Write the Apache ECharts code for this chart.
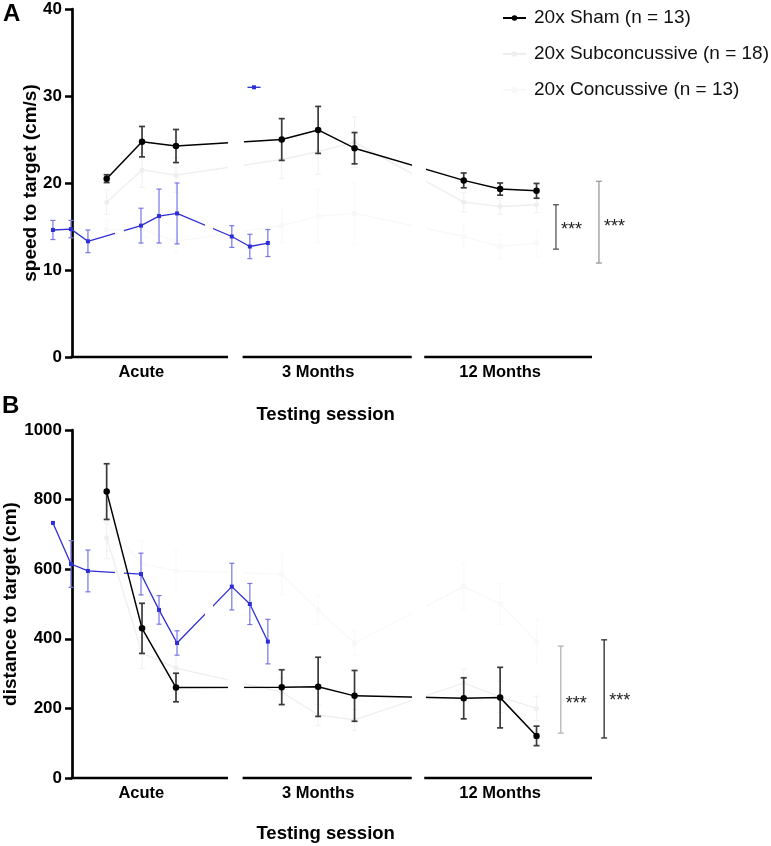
<!DOCTYPE html>
<html><head><meta charset="utf-8">
<script src="https://cdn.jsdelivr.net/npm/echarts@6/dist/echarts.min.js"></script>
<style>html,body{margin:0;padding:0;background:#fff}#c{width:771px;height:846px}</style>
</head><body><div id="c"></div>
<script>
// ---------- data ----------
// x positions (axis units) of the nine testing days
const sessionX = [1.0, 2.02, 3.0, 6.05, 7.1, 8.15, 11.3, 12.35, 13.4];
// positions of the displaced (blue) duplicate of the concussive group
const blueX = [-0.55, -0.03, 0.46, 1.99, 2.51, 3.03, 4.61, 5.13, 5.65];
const sessionNames = ['Acute', '3 Months', '12 Months'];
const sessionLabelX = [2.0, 7.1, 12.35];
const axisSegments = [[0, 4.5], [4.96, 9.8], [10.2, 15]];
const lineGaps = [[4.5, 4.96], [9.8, 10.2]];
const blueGaps = [[1.24, 1.5], [3.84, 4.07]];
const seriesNames = ['20x Sham (n = 13)', '20x Subconcussive (n = 18)', '20x Concussive (n = 13)'];

// Panel A: speed to target (cm/s)
const speedSham = [20.5, 24.75, 24.25, 25.0, 26.1, 24.0, 20.3, 19.3, 19.1];
const speedShamErr = [0.45, 1.75, 1.9, 2.4, 2.7, 1.8, 0.85, 0.7, 0.85];
const speedSub = [17.8, 21.5, 20.9, 22.7, 23.6, 24.7, 17.8, 17.3, 17.5];
const speedSubErr = [1.4, 2.0, 2.0, 2.2, 2.6, 2.9, 1.1, 0.9, 0.9];
const speedConc = [14.6, 14.7, 13.3, 15.1, 16.2, 16.5, 13.85, 12.7, 13.1];
const speedConcErr = [1.1, 1.0, 1.3, 2.0, 3.1, 3.5, 1.25, 1.4, 1.55];
const speedSigX = [13.96, 15.2];
const speedSigRange = [[12.4, 17.5], [10.8, 20.2]];
const speedSigStarsY = [14.6, 14.9];
const speedBlueGlyph = [[5.25, 31]];

// Panel B: distance to target (cm)
const distSham = [823, 430, 260, 261, 262, 236, 229, 231, 121];
const distShamErr = [80, 72, 41, 50, 85, 73, 59, 87, 28];
const distSub = [690, 359, 316, 247, 181, 167, 273, 233, 200];
const distSubErr = [60, 45, 35, 40, 30, 30, 40, 45, 35];
const distConc = [733, 615, 595, 586, 483, 388, 550, 500, 392];
const distConcErr = [null, 67, 60, 60, 41, 35, 67, 59, 64];
const distSigX = [14.1, 15.35];
const distSigRange = [[129, 379], [115, 397]];
const distSigStarsY = [213, 221];

// ---------- style ----------
const FONT = '"Liberation Sans", Arial, Helvetica, sans-serif';
const C_SHAM = '#000000', C_SHAM_ERR = '#3a3a3a';
const C_SUB = '#eeeeee', C_CONC = '#f8f8f8';
const C_SUB_ERR = '#f2f2f2', C_CONC_ERR = '#fafafa';
const C_BLUE = '#2e2ed6', C_BLUE_ERR = '#7676e6';
const sigColorsA = ['#555555', '#9a9a9a'];
const sigColorsB = ['#b4b4b4', '#2a2a2a'];
const X_MIN = -1, X_MAX = 15;       // x axis extent; y axis line sits on x = 0
const PX_PER_UNIT = 520 / 15;
const SHIFT = -X_MIN * PX_PER_UNIT;  // distance from grid edge to the y axis line

const series = [];
const visualMap = [];

function pieces(gaps, color) {
  const p = [{lt: gaps[0][0], color: color}];
  for (let i = 0; i < gaps.length - 1; i++) p.push({gt: gaps[i][1], lt: gaps[i + 1][0], color: color});
  p.push({gt: gaps[gaps.length - 1][1], color: color});
  return p;
}

function addLine(g, name, xs, ys, color, symbol, size, width, gaps, z) {
  const idx = series.length;
  series.push({
    type: 'line', name: name, xAxisIndex: g, yAxisIndex: g,
    data: xs.map((x, i) => [x, ys[i]]),
    symbol: symbol, symbolSize: size, showSymbol: true,
    itemStyle: {color: color}, lineStyle: {width: width},
    clip: false, silent: true, animation: false, z: z
  });
  visualMap.push({type: 'piecewise', show: false, dimension: 0, seriesIndex: idx,
    pieces: pieces(gaps, color), outOfRange: {color: 'rgba(0,0,0,0)'}});
}

function addErr(g, xs, ys, errs, color, cap, width, z) {
  const data = [];
  xs.forEach((x, i) => { if (errs[i] != null) data.push([x, ys[i] - errs[i], ys[i] + errs[i]]); });
  series.push({
    type: 'custom', xAxisIndex: g, yAxisIndex: g, data: data, clip: false, silent: true,
    animation: false, z: z, encode: {x: 0, y: [1, 2]},
    renderItem: function (params, api) {
      const lo = api.coord([api.value(0), api.value(1)]);
      const hi = api.coord([api.value(0), api.value(2)]);
      const st = {stroke: color, lineWidth: width, fill: null};
      return {type: 'group', children: [
        {type: 'line', shape: {x1: lo[0], y1: lo[1], x2: hi[0], y2: hi[1]}, style: st},
        {type: 'line', shape: {x1: lo[0] - cap, y1: lo[1], x2: lo[0] + cap, y2: lo[1]}, style: st},
        {type: 'line', shape: {x1: hi[0] - cap, y1: hi[1], x2: hi[0] + cap, y2: hi[1]}, style: st}
      ]};
    }
  });
}

function addSegments(g) {
  series.push({
    type: 'custom', xAxisIndex: g, yAxisIndex: g, data: axisSegments, clip: false, silent: true,
    animation: false, z: 5, encode: {x: [0, 1]},
    renderItem: function (params, api) {
      const a = api.coord([api.value(0), 0]);
      const b = api.coord([api.value(1), 0]);
      return {type: 'line', shape: {x1: a[0] - 1.35, y1: a[1], x2: b[0], y2: b[1]},
        style: {stroke: '#000', lineWidth: 2.7}};
    }
  });
}

function addSig(g, xs, ranges, starsY, colors) {
  series.push({
    type: 'custom', xAxisIndex: g, yAxisIndex: g, clip: false, silent: true, animation: false, z: 10,
    data: xs.map((x, i) => [x, ranges[i][0], ranges[i][1], starsY[i]]),
    encode: {x: 0, y: [1, 2]},
    renderItem: function (params, api) {
      const c = colors[params.dataIndex];
      const lo = api.coord([api.value(0), api.value(1)]);
      const hi = api.coord([api.value(0), api.value(2)]);
      const ty = api.coord([api.value(0), api.value(3)])[1];
      const st = {stroke: c, lineWidth: 1.3};
      return {type: 'group', children: [
        {type: 'line', shape: {x1: lo[0], y1: lo[1], x2: hi[0], y2: hi[1]}, style: st},
        {type: 'line', shape: {x1: lo[0] - 3, y1: lo[1], x2: lo[0] + 3, y2: lo[1]}, style: st},
        {type: 'line', shape: {x1: hi[0] - 3, y1: hi[1], x2: hi[0] + 3, y2: hi[1]}, style: st},
        {type: 'text', x: lo[0] + 5, y: ty, style: {text: '***', fontSize: 18, fontFamily: FONT,
          fill: '#222', align: 'left', verticalAlign: 'middle'}}
      ]};
    }
  });
}

function addGlyph(g, pts) {
  series.push({
    type: 'custom', xAxisIndex: g, yAxisIndex: g, clip: false, silent: true, animation: false, z: 7,
    data: pts, encode: {x: 0, y: 1},
    renderItem: function (params, api) {
      const p = api.coord([api.value(0), api.value(1)]);
      return {type: 'group', children: [
        {type: 'line', shape: {x1: p[0] - 6.5, y1: p[1], x2: p[0] + 6.5, y2: p[1]}, style: {stroke: C_BLUE, lineWidth: 1.3}},
        {type: 'rect', shape: {x: p[0] - 2, y: p[1] - 2, width: 4, height: 4}, style: {fill: C_BLUE}}
      ]};
    }
  });
}

function buildPanel(g, sham, shamErr, sub, subErr, conc, concErr) {
  addSegments(g);
  addErr(g, sessionX, conc, concErr, C_CONC_ERR, 3, 1.2, 2);
  addLine(g, seriesNames[2], sessionX, conc, C_CONC, 'rect', 5, 1.3, lineGaps, 2);
  addErr(g, sessionX, sub, subErr, C_SUB_ERR, 3, 1.2, 3);
  addLine(g, seriesNames[1], sessionX, sub, C_SUB, 'circle', 5, 1.3, lineGaps, 3);
  addErr(g, blueX, conc, concErr, C_BLUE_ERR, 2.5, 1.2, 6);
  addLine(g, '', blueX, conc, C_BLUE, 'rect', 4, 1.3, blueGaps, 7);
  addErr(g, sessionX, sham, shamErr, C_SHAM_ERR, 3, 1.7, 8);
  addLine(g, seriesNames[0], sessionX, sham, C_SHAM, 'circle', 6.5, 1.5, lineGaps, 9);
}

buildPanel(0, speedSham, speedShamErr, speedSub, speedSubErr, speedConc, speedConcErr);
addSig(0, speedSigX, speedSigRange, speedSigStarsY, sigColorsA);
addGlyph(0, speedBlueGlyph);
buildPanel(1, distSham, distShamErr, distSub, distSubErr, distConc, distConcErr);
addSig(1, distSigX, distSigRange, distSigStarsY, sigColorsB);

function xAxis(g, gap) {
  return {
    type: 'value', gridIndex: g, min: X_MIN, max: X_MAX,
    axisLine: {show: false}, axisTick: {show: false}, splitLine: {show: false},
    axisLabel: {
      customValues: sessionLabelX, margin: 7, fontSize: 16.5, fontWeight: 'bold', color: '#000', fontFamily: FONT,
      formatter: function (v) {
        for (let i = 0; i < sessionLabelX.length; i++) if (Math.abs(sessionLabelX[i] - v) < 1e-6) return sessionNames[i];
        return '';
      }
    },
    name: 'Testing session', nameLocation: 'middle', nameGap: gap,
    nameTextStyle: {fontSize: 18.5, fontWeight: 'bold', color: '#000', fontFamily: FONT, padding: [0, 0, 0, 22]}
  };
}
function yAxis(g, max, interval, name, gap) {
  return {
    type: 'value', gridIndex: g, min: 0, max: max, interval: interval,
    axisLine: {show: true, onZero: true, lineStyle: {color: '#000', width: 2.7}},
    axisTick: {show: true, length: 7, lineStyle: {color: '#000', width: 2.5}},
    axisLabel: {fontSize: 17, fontWeight: 'bold', color: '#000', margin: 10 - SHIFT, fontFamily: FONT,
      formatter: function (v) { return String(v); }},
    splitLine: {show: false},
    name: name, nameLocation: 'middle', nameGap: gap - SHIFT, nameMoveOverlap: false,
    nameTextStyle: {fontSize: 19, fontWeight: 'bold', color: '#000', fontFamily: FONT}
  };
}

const gridLeft = 72 - SHIFT;
const gridWidth = (X_MAX - X_MIN) * PX_PER_UNIT;

const option = {
  backgroundColor: '#fff',
  animation: false,
  textStyle: {fontFamily: FONT},
  grid: [
    {left: gridLeft, top: 9, width: gridWidth, height: 348, containLabel: false, outerBoundsMode: 'none'},
    {left: gridLeft, top: 430, width: gridWidth, height: 348, containLabel: false, outerBoundsMode: 'none'}
  ],
  xAxis: [xAxis(0, 48.5), xAxis(1, 46)],
  yAxis: [yAxis(0, 40, 10, 'speed to target (cm/s)', 32), yAxis(1, 1000, 200, 'distance to target (cm)', 52)],
  legend: {
    data: seriesNames, orient: 'vertical', left: 497, top: 3,
    itemWidth: 23, itemHeight: 7, itemGap: 16, selectedMode: false,
    textStyle: {fontSize: 19, color: '#111', lineHeight: 20, padding: [0, 0, 0, 3], fontFamily: FONT}
  },
  visualMap: visualMap,
  graphic: [
    {type: 'text', left: 3, top: 2, style: {text: 'A', fontSize: 24, fontWeight: 'bold', fill: '#000', fontFamily: FONT}},
    {type: 'text', left: 2, top: 394, style: {text: 'B', fontSize: 24, fontWeight: 'bold', fill: '#000', fontFamily: FONT}}
  ],
  series: series
};

const chart = echarts.init(document.getElementById('c'));
chart.setOption(option);
</script>
</body></html>
